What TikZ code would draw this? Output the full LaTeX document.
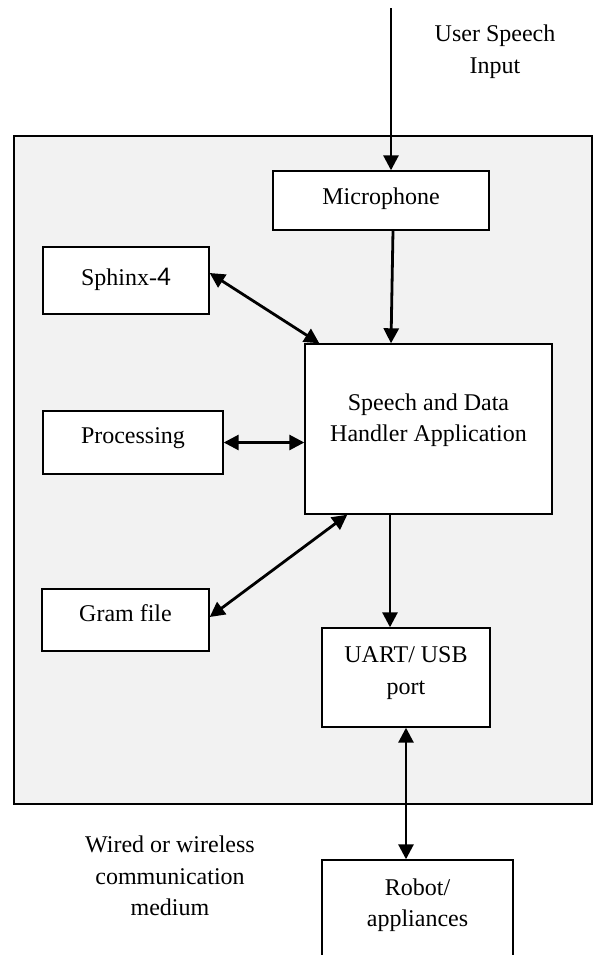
\documentclass[tikz,border=0pt]{standalone}
\usepackage{fontspec}
\setmainfont{Liberation Serif}
\newfontfamily\digitfont{Carlito}
\usetikzlibrary{arrows.meta,positioning}
\definecolor{panelgray}{HTML}{F2F2F2}

\begin{document}
\begin{tikzpicture}[
        x=0.5pt, y=-0.5pt,
        font=\fontsize{12}{15.75}\selectfont,
        box/.style={draw, line width=0.7pt, fill=white, align=center, inner sep=0pt},
        arrow/.style={-{Triangle[length=7.5pt,width=7.5pt]}, line width=1.4pt},
        twoway/.style={{Triangle[length=7.5pt,width=7.5pt]}-{Triangle[length=7.5pt,width=7.5pt]}, line width=1.4pt}
    ]
        \useasboundingbox (0,0) rectangle (593,955);

        % outer system panel
        \draw[line width=0.7pt, fill=panelgray] (14,136) rectangle (592,804);

        % blocks inside the panel
        \node[box, minimum width=108pt, minimum height=29.5pt, text depth=4.3pt] (mic) at (381,200.5) {Microphone};
        \node[box, minimum width=83pt, minimum height=33.5pt, text depth=3.3pt] (sphinx) at (126,280.5) {Sphinx-{\digitfont\fontsize{13.5}{15}\selectfont 4}};
        \node[box, minimum width=90pt, minimum height=31.5pt, text depth=7.3pt] (proc) at (133,442.5) {Processing};
        \node[box, minimum width=123.5pt, minimum height=85pt, text depth=11.3pt] (handler) at (428.5,429) {Speech and Data\\Handler Application};
        \node[box, minimum width=83.5pt, minimum height=31pt, text depth=6.8pt] (gram) at (125.5,620) {Gram file};
        \node[box, minimum width=84pt, minimum height=49.5pt, text depth=6.8pt] (uart) at (406,677.5) {UART/ USB\\port};
        \node[box, minimum width=95.5pt, minimum height=55pt, text depth=12.3pt] (robot) at (417.5,915) {Robot/\\appliances};

        % free texts
        \node[align=center] (speech) at (495,51.5) {User Speech\\Input};
        \node[align=center] (medium) at (170,876) {Wired or wireless\\communication\\medium};
        \coordinate (input) at (391,8);

        % connectors
        \draw[arrow] (input) -- (input |- mic.north);
        \draw[arrow] ([xshift=6pt]mic.south) -- ([xshift=5pt]mic.south |- handler.north);
        \draw[twoway] ([yshift=3.75pt]sphinx.east) -- ([xshift=7.5pt]handler.north west);
        \draw[twoway] (proc.east) -- (proc.east -| handler.west);
        \draw[twoway] ([yshift=1.5pt]gram.east) -- ([xshift=21.5pt]handler.south west);
        \draw[arrow] ([xshift=-8pt]uart.north |- handler.south) -- ([xshift=-8pt]uart.north);
        \draw[twoway] (uart.south) -- (uart.south |- robot.north);
    \end{tikzpicture}
\end{document}
